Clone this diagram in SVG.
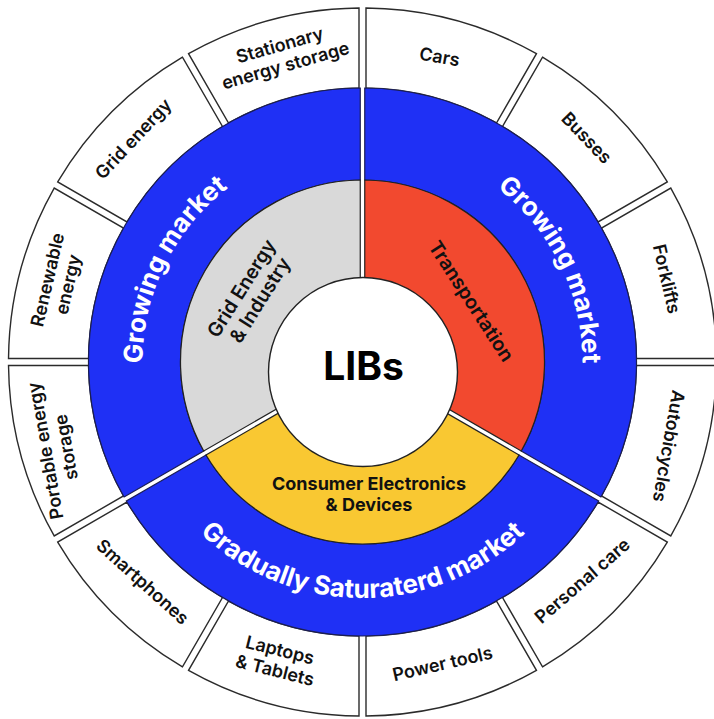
<svg xmlns="http://www.w3.org/2000/svg" xmlns:xlink="http://www.w3.org/1999/xlink" width="714" height="719" viewBox="0 0 714 719">
<style>
.seg{fill:#fff;stroke:#2b2b2b;stroke-width:1.4}
.blue{fill:#1f30f5;stroke:#1a1d55;stroke-width:1.2}
.red{fill:#f2492f;stroke:#222;stroke-width:1.2}
.yel{fill:#f9c832;stroke:#222;stroke-width:1.2}
.gry{fill:#d9d9d9;stroke:#222;stroke-width:1.2}
.lbl{font-family:Inter,"Liberation Sans",sans-serif;font-size:18px;font-weight:600;fill:#111;text-anchor:middle}
.inl{font-family:Inter,"Liberation Sans",sans-serif;font-size:19.5px;font-weight:600;fill:#111;text-anchor:middle}
.ce{font-family:Inter,"Liberation Sans",sans-serif;font-size:18px;font-weight:700;fill:#111;text-anchor:middle}
.mkt{font-family:Inter,"Liberation Sans",sans-serif;font-size:26px;font-weight:700;fill:#fff}
.core{font-family:Inter,"Liberation Sans",sans-serif;font-size:39px;font-weight:700;fill:#000;text-anchor:middle}
</style>
<defs>
<path id="outerSeg" d="M3.5,-353.983 A354,354 0 0 1 173.960,-308.309 L133.958,-239.022 A274,274 0 0 0 3.5,-273.978 Z"/>
<path id="blueSeg" d="M2.25,-273.991 A274,274 0 0 1 238.409,135.047 L158.730,89.044 A182,182 0 0 0 2.25,-181.986 Z"/>
<path id="innerSeg" d="M2.25,-181.986 A182,182 0 0 1 158.730,89.044 L70.379,38.035 A80,80 0 0 0 2.25,-79.968 Z"/>
<path id="arcL" d="M-188.577,113.308 A220,220 0 0 1 -26.811,-218.360" fill="none"/>
<path id="arcR" d="M26.811,-218.360 A220,220 0 0 1 188.577,113.308" fill="none"/>
<path id="arcB" d="M-204.382,118 A236,236 0 0 0 204.382,118" fill="none"/>
</defs>
<rect width="714" height="719" fill="#fff"/>
<g transform="translate(362.5,362)">
  <g id="outer-ring">
    <g id="seg-cars"><use href="#outerSeg" xlink:href="#outerSeg" class="seg"/><text class="lbl" transform="translate(77,-305) rotate(10)" y="6">Cars</text></g>
    <g id="seg-busses"><use href="#outerSeg" xlink:href="#outerSeg" class="seg" transform="rotate(30)"/><text class="lbl" transform="translate(224,-224) rotate(46)" y="6">Busses</text></g>
    <g id="seg-forklifts"><use href="#outerSeg" xlink:href="#outerSeg" class="seg" transform="rotate(60)"/><text class="lbl" transform="translate(304,-83) rotate(77)" y="6">Forklifts</text></g>
    <g id="seg-autobicycles"><use href="#outerSeg" xlink:href="#outerSeg" class="seg" transform="rotate(90)"/><text class="lbl" transform="translate(306,84) rotate(100)" y="6">Autobicycles</text></g>
    <g id="seg-personal-care"><use href="#outerSeg" xlink:href="#outerSeg" class="seg" transform="rotate(120)"/><text class="lbl" transform="translate(220,219) rotate(-41)" y="6">Personal care</text></g>
    <g id="seg-power-tools"><use href="#outerSeg" xlink:href="#outerSeg" class="seg" transform="rotate(150)"/><text class="lbl" transform="translate(80,302) rotate(-13)" y="6">Power tools</text></g>
    <g id="seg-laptops"><use href="#outerSeg" xlink:href="#outerSeg" class="seg" transform="rotate(180)"/><text class="lbl" transform="translate(-85,298) rotate(14)"><tspan x="0" y="-4">Laptops</tspan><tspan x="0" y="17">&amp; Tablets</tspan></text></g>
    <g id="seg-smartphones"><use href="#outerSeg" xlink:href="#outerSeg" class="seg" transform="rotate(210)"/><text class="lbl" transform="translate(-220,220) rotate(42)" y="6">Smartphones</text></g>
    <g id="seg-portable"><use href="#outerSeg" xlink:href="#outerSeg" class="seg" transform="rotate(240)"/><text class="lbl" transform="translate(-307,87) rotate(-100)"><tspan x="0" y="-4">Portable energy</tspan><tspan x="0" y="17">storage</tspan></text></g>
    <g id="seg-renewable"><use href="#outerSeg" xlink:href="#outerSeg" class="seg" transform="rotate(270)"/><text class="lbl" transform="translate(-305,-80) rotate(-77)"><tspan x="0" y="-4">Renewable</tspan><tspan x="0" y="17">energy</tspan></text></g>
    <g id="seg-grid-energy"><use href="#outerSeg" xlink:href="#outerSeg" class="seg" transform="rotate(300)"/><text class="lbl" transform="translate(-229,-223) rotate(-47)" y="6">Grid energy</text></g>
    <g id="seg-stationary"><use href="#outerSeg" xlink:href="#outerSeg" class="seg" transform="rotate(330)"/><text class="lbl" transform="translate(-80,-307) rotate(-16)"><tspan x="0" y="-4">Stationary</tspan><tspan x="0" y="17">energy storage</tspan></text></g>
  </g>
  <g id="market-ring">
    <g id="market-right"><use href="#blueSeg" xlink:href="#blueSeg" class="blue"/><text class="mkt"><textPath href="#arcR" xlink:href="#arcR" startOffset="50%" text-anchor="middle">Growing market</textPath></text></g>
    <g id="market-bottom"><use href="#blueSeg" xlink:href="#blueSeg" class="blue" transform="rotate(120)"/><text class="mkt"><textPath href="#arcB" xlink:href="#arcB" startOffset="50%" text-anchor="middle">Gradually Saturaterd market</textPath></text></g>
    <g id="market-left"><use href="#blueSeg" xlink:href="#blueSeg" class="blue" transform="rotate(240)"/><text class="mkt"><textPath href="#arcL" xlink:href="#arcL" startOffset="50%" text-anchor="middle">Growing market</textPath></text></g>
  </g>
  <g id="sector-ring">
    <g id="sector-transportation"><use href="#innerSeg" xlink:href="#innerSeg" class="red"/><text class="inl" transform="translate(109,-61) rotate(57)" y="7">Transportation</text></g>
    <g id="sector-consumer"><use href="#innerSeg" xlink:href="#innerSeg" class="yel" transform="rotate(120)"/><text class="ce"><tspan x="6.5" y="128">Consumer Electronics</tspan><tspan x="6.5" y="149">&amp; Devices</tspan></text></g>
    <g id="sector-grid"><use href="#innerSeg" xlink:href="#innerSeg" class="gry" transform="rotate(240)"/><text class="inl" transform="translate(-112,-68) rotate(-58)"><tspan x="0" y="-4">Grid Energy</tspan><tspan x="0" y="18">&amp; Industry</tspan></text></g>
  </g>
  <g id="core">
    <circle cx="0.5" cy="10" r="94.5" fill="#fff" stroke="#222" stroke-width="1.4"/>
    <text class="core" x="1" y="18">LIBs</text>
  </g>
</g>
<g id="connectors"/>
</svg>
